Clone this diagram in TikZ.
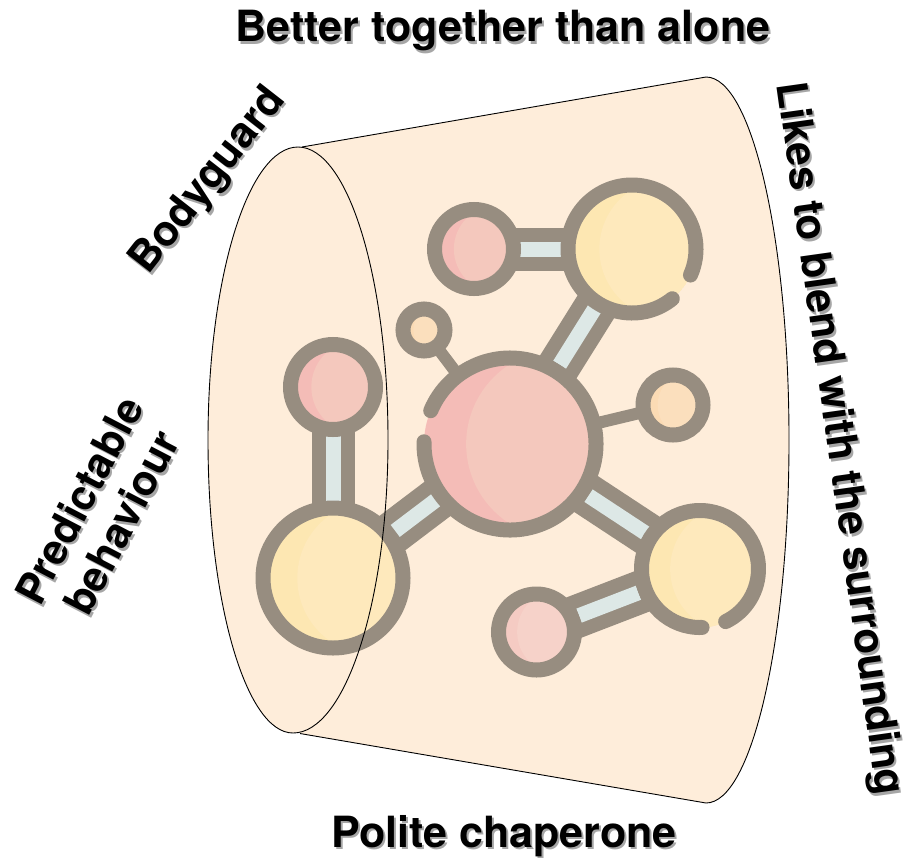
\documentclass[tikz,border=0pt]{standalone}
\usepackage{fontspec}
\setmainfont{TeX Gyre Heros}
\definecolor{canfill}{HTML}{FEEDDA}
\definecolor{ringgrey}{HTML}{978D80}
\definecolor{barblue}{HTML}{DDE8E6}
\definecolor{pinkdark}{HTML}{F4BCB7}
\definecolor{pinklight}{HTML}{F4C8BD}
\definecolor{rosedark}{HTML}{F5CBC3}
\definecolor{roselight}{HTML}{F6D2C9}
\definecolor{yellowdark}{HTML}{FDE7B2}
\definecolor{yellowlight}{HTML}{FEE9BC}
\definecolor{orangedark}{HTML}{FBDBB4}
\definecolor{orangelight}{HTML}{FBDFBD}
\newcommand{\boldsize}[1]{\bfseries\fontsize{#1}{48}\selectfont}
\tikzset{
  canline/.style={draw=black,line width=0.9pt},
  barout/.style={draw=ringgrey,line width=43pt},
  barin/.style={draw=barblue,line width=15pt},
  stick/.style={draw=ringgrey,line width=12pt},
  ring/.style={draw=ringgrey,line width=15pt,line cap=round},
  lbl/.style={align=center,inner sep=0pt},
}
% ball: name, radius, dark colour, light colour
\newcommand{\ballfill}[4]{
  \begin{scope}
    \clip (#1) circle (#2pt);
    \fill[#3] (#1) circle (#2pt);
    \fill[#4] ([xshift=0.59*#2 pt]#1) circle (1.1*#2 pt);
  \end{scope}
}
% label with its shadow: name, x, y, options, text
\newcommand{\softlabel}[5]{
  \node[lbl,#4,text=black,text opacity=0.35] at (#2+2,#3+2.5) {#5};
  \node[lbl,#4] (#1) at (#2,#3) {#5};
}
\begin{document}
\begin{tikzpicture}[x=1pt,y=-1pt]
\useasboundingbox (0,0) rectangle (909,857);
\coordinate (canTopL) at (302,147);
\coordinate (canTopR) at (706,77);
\coordinate (canBotL) at (300,733.5);
\coordinate (canBotR) at (706,803);
\coordinate (mouthT) at (298,147);
\coordinate (mouthR) at (388,440);
\coordinate (mouthB) at (293,733);
\coordinate (mouthL) at (208,440);
\coordinate (bigPink) at (510,444);
\coordinate (topPink) at (474,249);
\coordinate (topYellow) at (632,249);
\coordinate (leftPink) at (333,387);
\coordinate (leftYellow) at (333,578);
\coordinate (rightYellow) at (700,569);
\coordinate (lowPink) at (536.5,632);
\coordinate (tinyOrange) at (424,330);
\coordinate (sideOrange) at (673,405);
% can
\fill[canfill] (canTopL) -- (canTopR) arc[start angle=270,end angle=450,x radius=83,y radius=363] -- (canBotL) -- cycle;
\fill[canfill] (mouthT) .. controls (348,147) and (388,278) .. (mouthR) .. controls (388,602) and (345,733) .. (mouthB) .. controls (246,733) and (208,602) .. (mouthL) .. controls (208,278) and (248,147) .. (mouthT);
% bars
\draw[barout] (topPink) -- (topYellow);
\draw[barout] (bigPink) -- (topYellow);
\draw[barout] (leftPink) -- (leftYellow);
\draw[barout] (bigPink) -- (leftYellow);
\draw[barout] (bigPink) -- (rightYellow);
\draw[barout] (lowPink) -- (rightYellow);
\draw[stick] (bigPink) -- (tinyOrange);
\draw[stick] (bigPink) -- (sideOrange);
\draw[barin,shorten <=46pt,shorten >=71pt] (topPink) -- (topYellow);
\draw[barin,shorten <=93.5pt,shorten >=70pt] (bigPink) -- (topYellow);
\draw[barin,shorten <=48pt,shorten >=76pt] (leftPink) -- (leftYellow);
\draw[barin,shorten <=92pt,shorten >=78pt] (bigPink) -- (leftYellow);
\draw[barin,shorten <=94pt,shorten >=64.6pt] (bigPink) -- (rightYellow);
\draw[barin,shorten <=45.6pt,shorten >=66pt] (lowPink) -- (rightYellow);
% balls
\ballfill{bigPink}{86}{pinkdark}{pinklight}
\ballfill{topPink}{39.5}{pinkdark}{pinklight}
\ballfill{leftPink}{42.5}{pinkdark}{pinklight}
\ballfill{lowPink}{38}{rosedark}{roselight}
\ballfill{topYellow}{64}{yellowdark}{yellowlight}
\ballfill{leftYellow}{70}{yellowdark}{yellowlight}
\ballfill{rightYellow}{58.5}{yellowdark}{yellowlight}
\ballfill{tinyOrange}{21}{orangedark}{orangelight}
\ballfill{sideOrange}{30}{orangedark}{orangelight}
% rings
\draw[ring] (topPink) circle (39.5pt);
\draw[ring] (leftPink) circle (42.5pt);
\draw[ring] (lowPink) circle (38pt);
\draw[ring] (leftYellow) circle (70pt);
\draw[ring] (tinyOrange) circle (21pt);
\draw[ring] (sideOrange) circle (30pt);
\draw[ring] ([shift={(202.8:86)}]bigPink) arc[start angle=202.8,end angle=541.5,radius=86];
\draw[ring] ([shift={(51:64)}]topYellow) arc[start angle=51,end angle=384,radius=64];
\draw[ring] ([shift={(88:58.5)}]rightYellow) arc[start angle=88,end angle=424,radius=58.5];
% outline on top
\draw[canline] (canTopL) -- (canTopR) arc[start angle=270,end angle=450,x radius=83,y radius=363] -- (canBotL);
\draw[canline] (mouthT) .. controls (348,147) and (388,278) .. (mouthR) .. controls (388,602) and (345,733) .. (mouthB) .. controls (246,733) and (208,602) .. (mouthL) .. controls (208,278) and (248,147) .. (mouthT);
% labels
\softlabel{title}{503}{31}{font=\boldsize{43}}{Better together than alone}
\softlabel{chaperone}{504}{836}{font=\boldsize{43}}{Polite chaperone}
\softlabel{guard}{209}{181}{font=\boldsize{42.5},rotate=52}{Bodyguard}
\softlabel{behave}{100}{511}{font=\boldsize{42},rotate=62.5}{Predictable\\behaviour}
\softlabel{blend}{838}{439}{font=\boldsize{42.5},rotate=-82}{Likes to blend with the surrounding}
\end{tikzpicture}
\end{document}
